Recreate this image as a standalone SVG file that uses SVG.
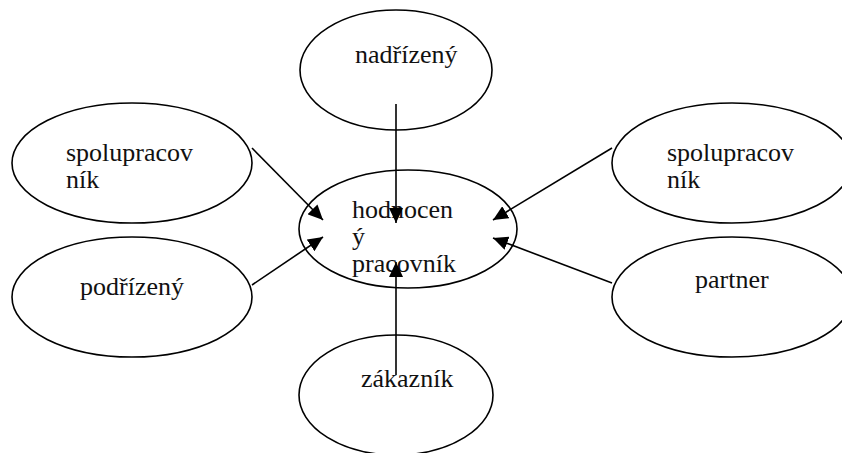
<svg xmlns="http://www.w3.org/2000/svg" width="842" height="453" viewBox="0 0 842 453" font-family="'Liberation Serif', 'Times New Roman', Times, serif">
<style>
.node ellipse{fill:#fff;stroke:#000;stroke-width:1.6}
.lbl{font-family:'Liberation Serif','Times New Roman',Times,serif;font-size:26px;fill:#111}
.conn line{stroke:#000;stroke-width:1.6}
</style>
<defs>
<marker id="ah" markerUnits="userSpaceOnUse" markerWidth="16" markerHeight="14" refX="15" refY="7" orient="auto">
<path d="M0,0 L15,7 L0,14 Z" fill="#000"/>
</marker>
</defs>
<rect width="842" height="453" fill="#fff"/>
<g id="n-nadrizeny" class="node"><ellipse cx="396" cy="70" rx="96" ry="60"/><text class="lbl" x="355" y="63">nadřízený</text></g>
<g id="n-spolu-left" class="node"><ellipse cx="132" cy="163" rx="120" ry="60"/><text class="lbl" x="66" y="161">spolupracov</text><text class="lbl" x="66" y="188">ník</text></g>
<g id="n-podrizeny" class="node"><ellipse cx="132" cy="297" rx="120" ry="60"/><text class="lbl" x="80" y="295">podřízený</text></g>
<g id="n-spolu-right" class="node"><ellipse cx="732" cy="163" rx="120" ry="60"/><text class="lbl" x="667" y="161">spolupracov</text><text class="lbl" x="667" y="188">ník</text></g>
<g id="n-partner" class="node"><ellipse cx="732" cy="297" rx="120" ry="60"/><text class="lbl" x="695" y="288">partner</text></g>
<g id="n-zakaznik" class="node"><ellipse cx="396" cy="395" rx="97" ry="60"/><text class="lbl" x="361" y="387">zákazník</text></g>
<g id="n-center" class="node"><ellipse cx="408" cy="229" rx="109" ry="59"/><text class="lbl" x="352" y="218">hodnocen</text><text class="lbl" x="352" y="245">ý</text><text class="lbl" x="352" y="272">pracovník</text></g>
<g id="connectors" class="conn">
<line x1="252" y1="148" x2="323" y2="220" marker-end="url(#ah)"/>
<line x1="252" y1="285" x2="323" y2="237" marker-end="url(#ah)"/>
<line x1="612" y1="148" x2="493" y2="220" marker-end="url(#ah)"/>
<line x1="612" y1="283" x2="493" y2="238" marker-end="url(#ah)"/>
<line x1="396" y1="104" x2="396" y2="223" marker-end="url(#ah)"/>
<line x1="396" y1="375" x2="396" y2="262" marker-end="url(#ah)"/>
</g>
</svg>
